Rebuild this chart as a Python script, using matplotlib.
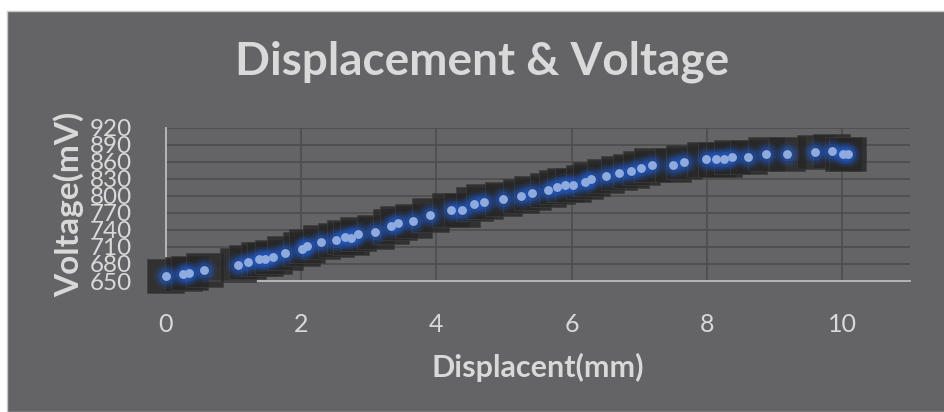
import numpy as np
import matplotlib
matplotlib.use("Agg")
import matplotlib.pyplot as plt
from matplotlib.patches import Rectangle

# displacement (mm) and voltage (mV)
displacement = [0.0, 0.26, 0.35, 0.57, 1.07, 1.21, 1.38, 1.47, 1.59, 1.76,
                2.01, 2.09, 2.30, 2.52, 2.65, 2.74, 2.84, 3.10, 3.33, 3.44,
                3.66, 3.91, 4.21, 4.38, 4.56, 4.71, 4.99, 5.25, 5.42, 5.65,
                5.78, 5.90, 6.02, 6.19, 6.29, 6.50, 6.70, 6.88, 7.03, 7.19,
                7.50, 7.66, 7.98, 8.14, 8.25, 8.37, 8.61, 8.87, 9.18, 9.60,
                9.84, 10.01, 10.08]
voltage = [659, 663, 664, 669, 678, 683, 688, 688, 693, 699,
           707, 712, 718, 722, 727, 726, 732, 737, 746, 752,
           756, 766, 775, 775, 785, 790, 795, 800, 805, 811,
           815, 819, 819, 825, 829, 835, 840, 844, 849, 854,
           855, 859, 864, 864, 864, 869, 868, 873, 873, 878,
           879, 873, 873]
x_err = 0.27
y_err = 30

x_ticks = [0, 2, 4, 6, 8, 10]
y_ticks = list(range(650, 921, 30))

BG = "#646466"
TXT = "#d9d9d9"
GRID = "#4e4e4e"
FONT = "Lato"

fig = plt.figure(figsize=(9.44, 4.12), dpi=100)
fig.patch.set_facecolor("white")
fig.patches.append(Rectangle((7 / 944, 0), 1, 1 - 11 / 412, transform=fig.transFigure,
                             facecolor=BG, edgecolor="#c8c8c8", lw=1.0, zorder=-10))

ax = fig.add_axes([165.7 / 944, 1 - 281 / 412, (910 - 165.7) / 944, (281 - 127.7) / 412])
ax.set_facecolor(BG)
ax.set_xlim(0, 11)
ax.set_ylim(650, 920)
ax.set_xticks(x_ticks)
ax.set_yticks(y_ticks)
ax.set_xticklabels([str(t) for t in x_ticks], fontsize=18, color=TXT, family=FONT)
ax.set_yticklabels([str(t) for t in y_ticks], fontsize=17.5, color=TXT, family=FONT)
ax.tick_params(axis="x", length=0, pad=23)
ax.tick_params(axis="y", length=0, pad=24)
ax.grid(True, color=GRID, lw=1.3)
ax.set_axisbelow(True)
for s in ["top", "right"]:
    ax.spines[s].set_visible(False)
for s in ["left", "bottom"]:
    ax.spines[s].set_color("#bdbdbd")
    ax.spines[s].set_linewidth(1.3)
    ax.spines[s].set_zorder(1.5)

# dark error boxes
for xv, yv in zip(displacement, voltage):
    ax.add_patch(Rectangle((xv - x_err, yv - y_err), 2 * x_err, 2 * y_err,
                           facecolor="#262626", alpha=0.82, edgecolor="#3c3c3c",
                           lw=0.6, clip_on=False, zorder=2))

# glow then markers
for ms, a in [(18, 0.12), (14.5, 0.2), (11, 0.32)]:
    ax.plot(displacement, voltage, "o", ms=ms, color="#1f5fd8", alpha=a,
            mec="none", clip_on=False, zorder=3)
ax.plot(displacement, voltage, "o", ms=6.4, color="#8faadc", mec="none",
        clip_on=False, zorder=4)

ax.set_xlabel("Displacent(mm)", fontsize=22, fontweight="bold", color=TXT,
              family=FONT, labelpad=12)
ax.set_ylabel("Voltage(mV)", fontsize=24, fontweight="bold", color=TXT,
              family=FONT, labelpad=4)
fig.text(482 / 944, 1 - 62 / 412, "Displacement & Voltage", fontsize=33,
         fontweight="bold", color=TXT, family=FONT, ha="center", va="center")

fig.savefig("out.png", dpi=100, facecolor=fig.get_facecolor())
